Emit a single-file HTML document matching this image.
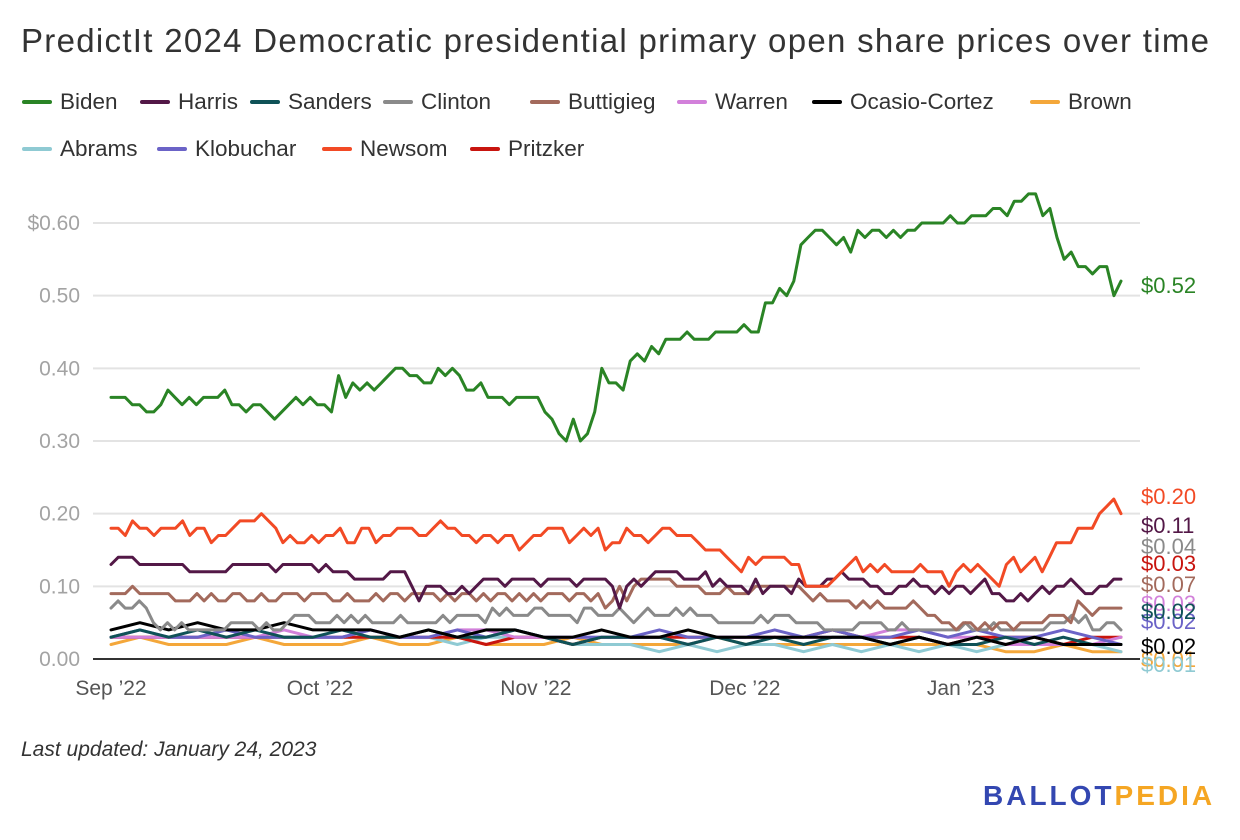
<!DOCTYPE html>
<html><head><meta charset="utf-8">
<style>
html,body{margin:0;padding:0;background:#fff;}
body{width:1240px;height:840px;position:relative;overflow:hidden;font-family:"Liberation Sans",sans-serif;color:#333;}
#title{position:absolute;left:21px;top:22px;font-size:33px;letter-spacing:1.3px;color:#333;white-space:nowrap;}
.leg{position:absolute;font-size:22.5px;color:#333;white-space:nowrap;display:flex;align-items:center;}
.leg i{display:inline-block;width:30px;height:4px;border-radius:2px;margin-right:8px;}
#updated{position:absolute;left:21px;top:738px;font-size:21px;font-style:italic;color:#333;}
#logo{position:absolute;left:983px;top:780px;font-size:28px;font-weight:bold;letter-spacing:3.0px;}
svg{position:absolute;left:0;top:0;}
</style></head>
<body>
<div id="title">PredictIt 2024 Democratic presidential primary open share prices over time</div>
<div id="legend">
<div class="leg" style="left:22px;top:89px"><i style="background:#2a8425"></i>Biden</div>
<div class="leg" style="left:140px;top:89px"><i style="background:#531847"></i>Harris</div>
<div class="leg" style="left:250px;top:89px"><i style="background:#0f5257"></i>Sanders</div>
<div class="leg" style="left:383px;top:89px"><i style="background:#8a8a8a"></i>Clinton</div>
<div class="leg" style="left:530px;top:89px"><i style="background:#a36a5c"></i>Buttigieg</div>
<div class="leg" style="left:677px;top:89px"><i style="background:#d280da"></i>Warren</div>
<div class="leg" style="left:812px;top:89px"><i style="background:#000"></i>Ocasio-Cortez</div>
<div class="leg" style="left:1030px;top:89px"><i style="background:#f4a73a"></i>Brown</div>
<div class="leg" style="left:22px;top:136px"><i style="background:#8fcad3"></i>Abrams</div>
<div class="leg" style="left:157px;top:136px"><i style="background:#6b63c7"></i>Klobuchar</div>
<div class="leg" style="left:322px;top:136px"><i style="background:#f24a25"></i>Newsom</div>
<div class="leg" style="left:470px;top:136px"><i style="background:#c8150f"></i>Pritzker</div>
</div>
<svg id="chart" width="1240" height="840"></svg>
<div id="updated">Last updated: January 24, 2023</div>
<div id="logo"><span style="color:#3347b1">BALLOT</span><span style="color:#f5a623">PEDIA</span></div>
<script>
const yTicks=[0,0.1,0.2,0.3,0.4,0.5,0.6];
const yTickLabels=["0.00","0.10","0.20","0.30","0.40","0.50","$0.60"];
const monthTickDays=[0,30,61,91,122];
const monthTickLabels=["Sep \u201922","Oct \u201922","Nov \u201922","Dec \u201922","Jan \u201923"];
const totalDays=145;
const biden=[.36,.36,.36,.35,.35,.34,.34,.35,.37,.36,.35,.36,.35,.36,.36,.36,.37,.35,.35,.34,.35,.35,.34,.33,.34,.35,.36,.35,.36,.35,.35,.34,.39,.36,.38,.37,.38,.37,.38,.39,.40,.40,.39,.39,.38,.38,.40,.39,.40,.39,.37,.37,.38,.36,.36,.36,.35,.36,.36,.36,.36,.34,.33,.31,.30,.33,.30,.31,.34,.40,.38,.38,.37,
.41,.42,.41,.43,.42,.44,.44,.44,.45,.44,.44,.44,.45,.45,.45,.45,.46,.45,.45,.49,.49,.51,.50,.52,.57,.58,.59,.59,.58,.57,.58,.56,.59,.58,.59,.59,.58,.59,.58,.59,.59,.60,.60,.60,.60,.61,.60,.60,.61,.61,.61,.62,.62,.61,.63,.63,.64,.64,.61,.62,.58,.55,.56,.54,.54,.53,.54,.54,.50,.52];
const newsom=[.18,.18,.17,.19,.18,.18,.17,.18,.18,.18,.19,.17,.18,.18,.16,.17,.17,.18,.19,.19,.19,.20,.19,.18,.16,.17,.16,.16,.17,.16,.17,.17,.18,.16,.16,.18,.18,.16,.17,.17,.18,.18,.18,.17,.17,.18,.19,.18,.18,.17,.17,.16,.17,.17,.16,.17,.17,.15,.16,.17,.17,.18,.18,.18,.16,.17,.18,.17,.18,.15,.16,.16,.18,
.17,.17,.16,.17,.18,.18,.17,.17,.17,.16,.15,.15,.15,.14,.13,.12,.14,.13,.14,.14,.14,.14,.13,.13,.10,.10,.10,.10,.11,.12,.13,.14,.12,.13,.12,.13,.12,.12,.12,.12,.13,.12,.12,.12,.10,.12,.13,.12,.13,.12,.11,.10,.13,.14,.12,.13,.14,.12,.14,.16,.16,.16,.18,.18,.18,.20,.21,.22,.20];
const harris=[.13,.14,.14,.14,.13,.13,.13,.13,.13,.13,.13,.12,.12,.12,.12,.12,.12,.13,.13,.13,.13,.13,.13,.12,.13,.13,.13,.13,.13,.12,.13,.12,.12,.12,.11,.11,.11,.11,.11,.12,.12,.12,.10,.08,.10,.10,.10,.09,.09,.10,.09,.10,.11,.11,.11,.10,.11,.11,.11,.11,.10,.11,.11,.11,.11,.10,.11,.11,.11,.11,.10,.07,.10,
.11,.10,.11,.12,.12,.12,.12,.11,.11,.11,.12,.10,.11,.10,.10,.10,.09,.11,.09,.10,.10,.10,.09,.11,.10,.10,.10,.11,.11,.12,.11,.11,.11,.10,.10,.09,.09,.10,.10,.11,.10,.10,.09,.10,.09,.10,.10,.09,.10,.11,.09,.09,.08,.08,.09,.08,.09,.10,.09,.10,.10,.11,.10,.09,.09,.10,.10,.11,.11];
const buttigieg=[.09,.09,.09,.10,.09,.09,.09,.09,.09,.08,.08,.08,.09,.08,.09,.08,.08,.09,.09,.08,.08,.09,.08,.08,.09,.09,.09,.08,.09,.09,.09,.08,.08,.09,.08,.08,.08,.09,.08,.09,.09,.08,.09,.09,.09,.09,.08,.09,.08,.09,.09,.08,.09,.08,.09,.09,.08,.09,.08,.09,.08,.09,.09,.09,.08,.09,.09,.08,.09,.07,.08,.10,.08,
.10,.11,.11,.11,.11,.11,.10,.10,.10,.10,.09,.09,.09,.10,.09,.09,.09,.10,.10,.10,.10,.10,.10,.10,.09,.08,.09,.08,.08,.08,.08,.07,.08,.07,.08,.07,.07,.07,.07,.08,.07,.06,.06,.05,.05,.04,.05,.05,.04,.05,.04,.05,.05,.04,.05,.05,.05,.05,.06,.06,.06,.05,.08,.07,.06,.07,.07,.07,.07];
const clinton=[.07,.08,.07,.07,.08,.07,.05,.04,.05,.04,.05,.04,.04,.04,.04,.04,.04,.05,.05,.05,.05,.04,.05,.04,.04,.05,.06,.06,.06,.05,.05,.05,.06,.05,.06,.05,.06,.05,.05,.05,.05,.06,.05,.05,.05,.05,.05,.06,.05,.06,.06,.06,.06,.05,.07,.06,.07,.06,.06,.06,.07,.07,.06,.06,.06,.06,.05,.07,.07,.06,.06,.06,.07,
.06,.05,.06,.07,.06,.06,.06,.07,.06,.07,.06,.06,.06,.05,.05,.05,.05,.05,.05,.06,.05,.06,.06,.06,.05,.05,.05,.05,.04,.04,.04,.04,.04,.05,.05,.05,.05,.04,.04,.05,.04,.04,.04,.04,.04,.04,.04,.04,.05,.04,.04,.04,.05,.04,.04,.04,.04,.04,.04,.04,.05,.05,.05,.06,.05,.06,.04,.04,.05,.05,.04];
const aoc=[.04,.05,.04,.05,.04,.04,.05,.04,.04,.04,.03,.04,.03,.04,.04,.03,.03,.04,.03,.03,.04,.03,.03,.03,.03,.03,.03,.02,.03,.02,.03,.02,.03,.02,.02,.02];
const sanders=[.03,.04,.03,.04,.03,.04,.03,.03,.04,.03,.03,.04,.03,.03,.04,.03,.02,.03,.03,.03,.02,.03,.02,.03,.02,.03,.03,.02,.03,.02,.02,.03,.02,.03,.02,.02];
const brown=[.02,.03,.02,.02,.02,.03,.02,.02,.02,.03,.02,.02,.03,.02,.02,.02,.03,.02,.02,.02,.02,.03,.02,.02,.02,.02,.02,.02,.02,.02,.02,.01,.01,.02,.01,.01];
const abrams=[.03,.03,.03,.03,.03,.03,.03,.03,.03,.03,.03,.03,.02,.03,.03,.03,.02,.02,.02,.01,.02,.01,.02,.02,.01,.02,.01,.02,.01,.02,.01,.02,.02,.02,.02,.01];
const klobuchar=[.03,.04,.03,.03,.04,.03,.03,.03,.03,.04,.03,.03,.04,.03,.04,.03,.03,.03,.03,.04,.03,.03,.03,.04,.03,.04,.03,.03,.04,.03,.04,.03,.03,.04,.03,.02];
const warren=[.03,.03,.03,.03,.03,.03,.04,.03,.03,.04,.03,.03,.04,.04,.03,.03,.03,.03,.03,.03,.02,.03,.03,.03,.03,.03,.03,.04,.04,.03,.03,.02,.02,.02,.02,.03];
const pritzker=[.03,.03,.03,.03,.03,.03,.03,.03,.03,.03,.03,.03,.03,.02,.03,.03,.02,.03,.03,.03,.03,.03,.03,.03,.03,.04,.03,.03,.03,.02,.03,.03,.03,.02,.03,.03];

const NS="http://www.w3.org/2000/svg";
const svg=document.getElementById('chart');
const X0=111,X1=1121,Y0=659,Y1=223;
function xScale(day){return X0+day*(X1-X0)/totalDays;}
function yScale(v){return Y0-v*(Y0-Y1)/0.6;}
function mk(tag,attrs){const e=document.createElementNS(NS,tag);for(const k in attrs)e.setAttribute(k,attrs[k]);svg.appendChild(e);return e;}

yTicks.forEach((t,i)=>{
  const y=yScale(t);
  if(t>0){const g=mk('line',{x1:93,x2:1140,y1:y,y2:y,stroke:'#e3e3e3','stroke-width':2});
  
  }
  const tx=mk('text',{x:80,y:y+7,'text-anchor':'end','font-size':21,fill:'#a3a3a3','font-family':'Liberation Sans, sans-serif'});
  tx.textContent=yTickLabels[i];
  
  
});
monthTickDays.forEach((d,i)=>{
  const tx=mk('text',{x:xScale(d),y:695,'text-anchor':'middle','font-size':21,fill:'#555','font-family':'Liberation Sans, sans-serif'});
  tx.textContent=monthTickLabels[i];
  
  
});

const series=[
 {name:'brown',data:brown,color:'#f4a73a',ly:667},
 {name:'abrams',data:abrams,color:'#8fcad3',ly:672},
 {name:'pritzker',data:pritzker,color:'#c8150f',ly:571},
 {name:'warren',data:warren,color:'#d280da',ly:611},
 {name:'klobuchar',data:klobuchar,color:'#6b63c7',ly:629},
 {name:'sanders',data:sanders,color:'#0f5257',ly:619},
 {name:'ocasio-cortez',data:aoc,color:'#000000',ly:654},
 {name:'clinton',data:clinton,color:'#8a8a8a',ly:554},
 {name:'buttigieg',data:buttigieg,color:'#a36a5c',ly:592},
 {name:'harris',data:harris,color:'#531847',ly:533},
 {name:'newsom',data:newsom,color:'#f24a25',ly:504},
 {name:'biden',data:biden,color:'#2a8425',ly:293}
];
const base=mk('line',{x1:93,x2:1140,y1:Y0,y2:Y0,stroke:'#333','stroke-width':2});


series.forEach(s=>{
  const n=s.data.length;
  const pts=s.data.map((v,i)=>xScale(i*totalDays/(n-1)).toFixed(1)+','+yScale(v).toFixed(1)).join(' ');
  const pl=mk('polyline',{points:pts,fill:'none',stroke:s.color,'stroke-width':3,'stroke-linejoin':'round','stroke-linecap':'round'});
  
  
});
series.forEach(s=>{
  const last=s.data[s.data.length-1];
  const tx=mk('text',{x:1141,y:s.ly,'font-size':22,fill:s.color,'font-family':'Liberation Sans, sans-serif'});
  tx.textContent='$'+last.toFixed(2);
  
  
});
</script>
</body></html>
